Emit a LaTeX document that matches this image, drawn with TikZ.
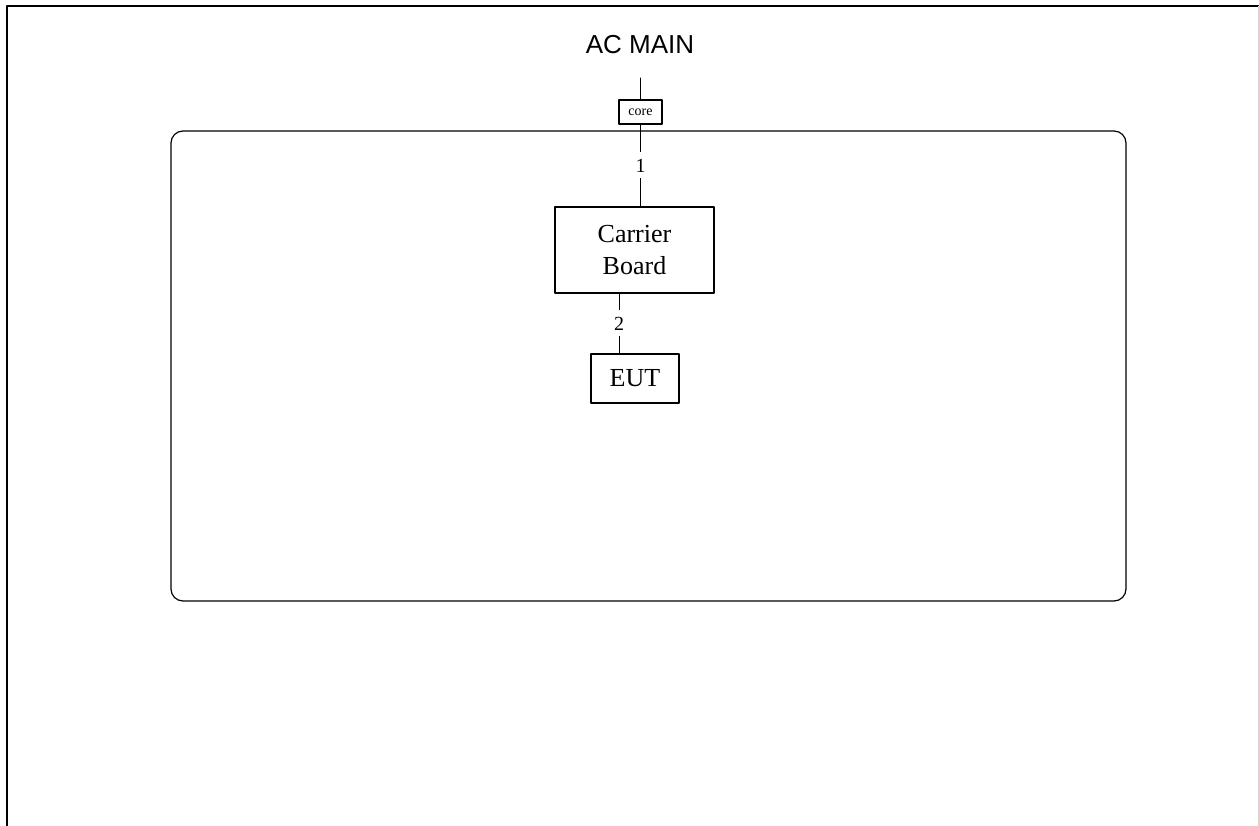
\documentclass[tikz,border=0pt]{standalone}
\usepackage{fontspec}
\setmainfont{Liberation Serif}
\newfontfamily\acfont{Liberation Sans}
\usepackage{tikz}
\usetikzlibrary{positioning}
\tikzstyle{unit} = [draw,line width=1.2pt,inner sep=0pt,align=center,font=\fontsize{26}{32.5}\selectfont]
\tikzstyle{wire} = [line width=1pt]
\tikzstyle{tag} = [fill=white,inner sep=0pt,minimum height=26pt,font=\fontsize{20}{22}\selectfont]

\begin{document}
\begin{tikzpicture}[line cap=round,line join=round,x=1pt,y=-1pt]
    \useasboundingbox (0,0) rectangle (1259,826);
    % sheet frame
    \draw [line width=2pt] (6.5,826) -- (6.5,6) -- (1259,6);
    \draw [gray!35,line width=0.8pt] (1258,6) -- (1258,826);
    % test area
    \draw [line width=1.2pt,rounded corners=12pt] (171,131) rectangle (1126,601);
    \node[font=\fontsize{26}{30}\acfont] (acmain) at (640,45) {AC MAIN};
    \coordinate (feed) at (640.5,78);
    \node[unit,minimum width=43pt,minimum height=24pt,font=\fontsize{14}{16}\selectfont] (core) at (640.5,112) {core};
    \node[unit,minimum width=159pt,minimum height=86pt] (board) at (634.5,250) {Carrier\\Board};
    \node[unit,minimum width=88pt,minimum height=49pt] (eut) at (635,378.5) {EUT};
    \coordinate (tap) at (619,0);
    % cables
    \draw [wire] (feed) -- (core);
    \draw [wire] (core.south) -- (core.south |- board.north) node[tag,midway] {1};
    \draw [wire] (tap |- board.south) -- (tap |- eut.north) node[tag,midway] {2};
\end{tikzpicture}
\end{document}
